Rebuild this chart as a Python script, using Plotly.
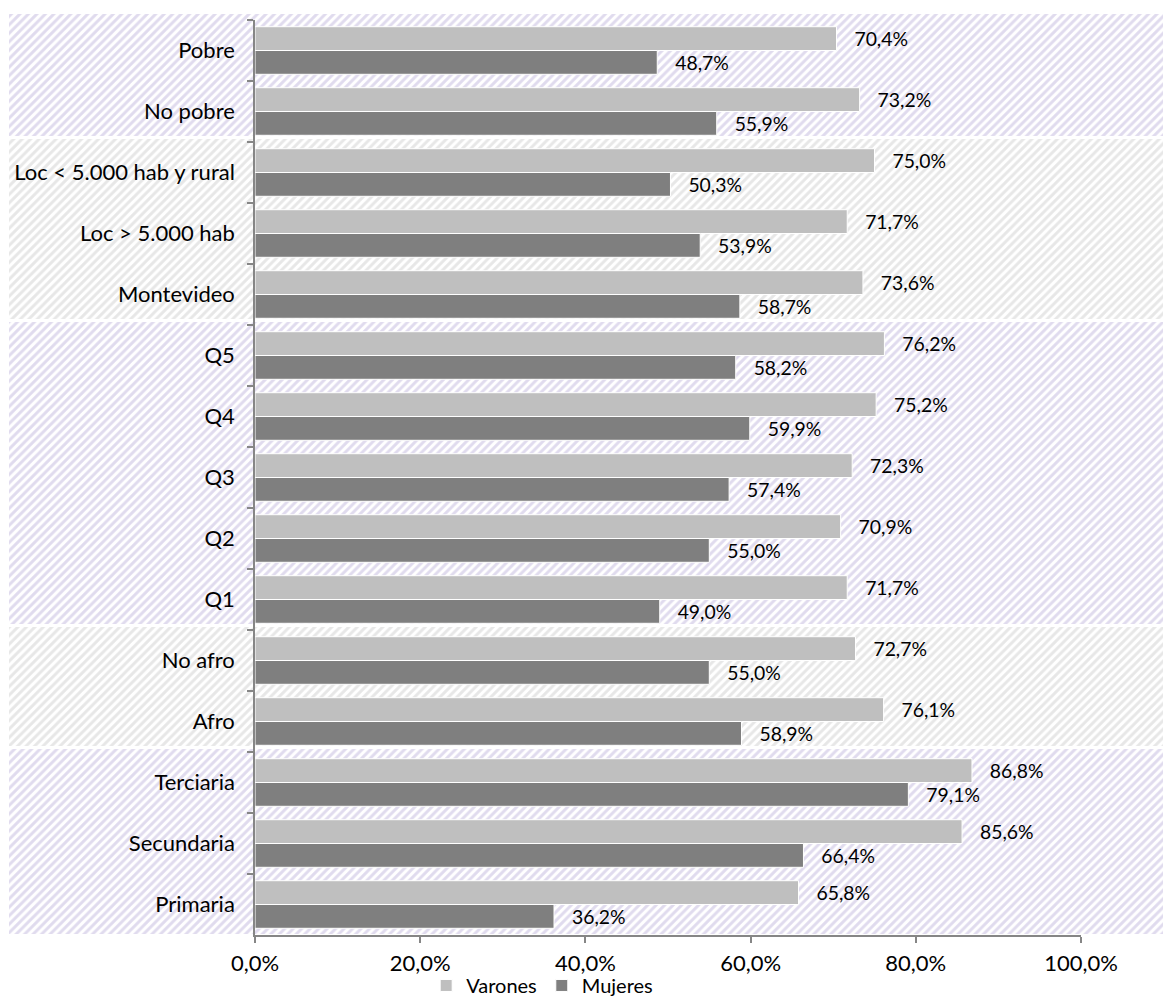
import plotly.graph_objects as go

# Categories listed top to bottom
categories = [
    "Pobre", "No pobre",
    "Loc < 5.000 hab y rural", "Loc > 5.000 hab", "Montevideo",
    "Q5", "Q4", "Q3", "Q2", "Q1",
    "No afro", "Afro",
    "Terciaria", "Secundaria", "Primaria",
]
varones = [70.4, 73.2, 75.0, 71.7, 73.6, 76.2, 75.2, 72.3, 70.9, 71.7, 72.7, 76.1, 86.8, 85.6, 65.8]
mujeres = [48.7, 55.9, 50.3, 53.9, 58.7, 58.2, 59.9, 57.4, 55.0, 49.0, 55.0, 58.9, 79.1, 66.4, 36.2]
x_ticks = [0, 20, 40, 60, 80, 100]
x_tick_labels = [f"{v:.1f}%".replace(".", ",") for v in x_ticks]

# Number of categories in each shaded background group (top to bottom)
group_sizes = [2, 3, 5, 2, 3]
group_colors = ["#c2b8de", "#d0d0d0", "#c2b8de", "#d0d0d0", "#c2b8de"]

W, H = 1171, 996
x_dom = [255 / W, 1081 / W]
y_dom = [(H - 935) / H, (H - 20) / H]

fig = go.Figure()

# Hatched background bands, drawn on a full-figure pixel axis
plot_top = H * (1 - y_dom[1])
plot_bot = H * (1 - y_dom[0])
pitch = (plot_bot - plot_top) / len(categories)
start = 0
for i, (n, col) in enumerate(zip(group_sizes, group_colors)):
    top = plot_top + start * pitch - (6 if i == 0 else 3)
    bot = plot_top + (start + n) * pitch - (1 if i == len(group_sizes) - 1 else 6)
    start += n
    fig.add_trace(go.Scatter(
        x=[9, 1163, 1163, 9, 9], y=[top, top, bot, bot, top],
        mode="lines", line=dict(width=0), fill="toself",
        fillcolor="white",
        fillpattern=dict(shape="/", fgcolor=col, bgcolor="white", size=6, solidity=0.5),
        xaxis="x", yaxis="y", showlegend=False, hoverinfo="skip",
    ))

FONT = "Lato"
FS = 22
label_font = dict(family=FONT, size=FS, color="#000000")

fig.add_trace(go.Bar(
    name="Varones", y=categories, x=varones, orientation="h",
    marker=dict(color="#bfbfbf", line=dict(color="white", width=1)),
    texttemplate="\u00a0\u00a0\u00a0%{x:.1f}%", textposition="outside",
    textfont=label_font, cliponaxis=False,
    xaxis="x2", yaxis="y2",
))
fig.add_trace(go.Bar(
    name="Mujeres", y=categories, x=mujeres, orientation="h",
    marker=dict(color="#7f7f7f", line=dict(color="white", width=1)),
    texttemplate="\u00a0\u00a0\u00a0%{x:.1f}%", textposition="outside",
    textfont=label_font, cliponaxis=False,
    xaxis="x2", yaxis="y2",
))

fig.update_layout(
    width=W, height=H, autosize=False,
    margin=dict(l=0, r=0, t=0, b=0, autoexpand=False),
    paper_bgcolor="white", plot_bgcolor="rgba(0,0,0,0)",
    separators=",.",
    font=dict(family=FONT, size=FS, color="#000000"),
    barmode="group", bargap=0.22, bargroupgap=0,
    xaxis=dict(domain=[0, 1], range=[0, W], visible=False, fixedrange=True),
    yaxis=dict(domain=[0, 1], range=[H, 0], visible=False, fixedrange=True),
    xaxis2=dict(
        domain=x_dom, range=[0, 100], anchor="y2", automargin=False,
        tickmode="array", tickvals=x_ticks, ticktext=x_tick_labels,
        showgrid=False, zeroline=False,
        showline=True, linecolor="#868686", linewidth=1.5,
        ticks="outside", ticklen=6, tickcolor="#868686", tickwidth=1.5,
        ticklabelstandoff=2,
        tickfont=dict(family=FONT, size=FS, color="#000000"),
    ),
    yaxis2=dict(
        domain=y_dom, anchor="x2", automargin=False,
        categoryorder="array", categoryarray=categories, autorange="reversed",
        showgrid=False, zeroline=False,
        showline=True, linecolor="#868686", linewidth=1.5,
        ticks="outside", ticklen=6, tickcolor="#868686", tickwidth=1.5,
        tickson="boundaries", ticklabelstandoff=14,
        tickfont=dict(family=FONT, size=FS, color="#000000"),
    ),
    legend=dict(
        orientation="h", x=0.463, xanchor="center", y=-0.009, yanchor="bottom",
        font=dict(family=FONT, size=20, color="#000000"),
        bgcolor="rgba(0,0,0,0)",
    ),
)

fig.write_html("out.html")
